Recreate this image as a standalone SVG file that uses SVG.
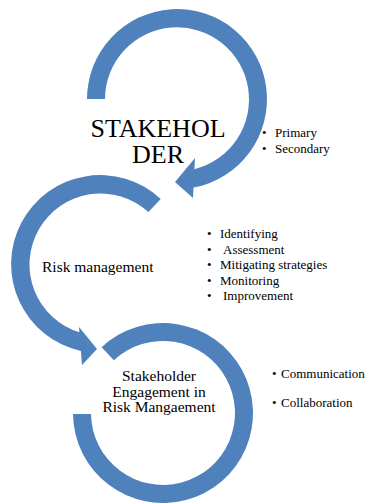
<svg xmlns="http://www.w3.org/2000/svg" width="366" height="503" viewBox="0 0 366 503">
  <style>
    .ring { fill: #4F81BD; stroke: none; }
    text { font-family: 'Liberation Serif', 'Times New Roman', serif; fill: #000; }
    .title { font-size: 26px; text-anchor: middle; }
    .head { font-size: 15.5px; }
    .item { font-size: 13px; }
  </style>
  <rect width="366" height="503" fill="#fff"/>

  <!-- Stakeholder: clockwise ring arrow -->
  <g id="stakeholder" font-family="Liberation Serif, serif">
    <path class="ring" d="M 87 99 A 90 90 0 1 1 193.5 187.6 L 193 198 L 175 182 L 195 158 L 194.4 169.2 A 72 72 0 1 0 105 99 Z"/>
    <text class="title" x="158" y="137">STAKEHOL</text>
    <text class="title" x="158" y="163">DER</text>
  </g>

  <!-- Risk management: counter-clockwise ring arrow -->
  <g id="risk-management" font-family="Liberation Serif, serif">
    <path class="ring" d="M 160.7 198.9 A 89 89 0 1 0 80.9 351 L 82 365 L 97 349 L 79 327 L 79.4 332.3 A 71 71 0 1 1 148.4 212.1 Z"/>
    <text class="head" x="42" y="272">Risk management</text>
  </g>

  <!-- Engagement: open ring -->
  <g id="engagement" font-family="Liberation Serif, serif">
    <path class="ring" d="M 101.6 347.2 A 90 90 0 1 1 73 414 L 91 414 A 72 72 0 1 0 113.9 360.3 Z"/>
    <text class="head" text-anchor="middle" x="159" y="381">Stakeholder</text>
    <text class="head" text-anchor="middle" x="159" y="396.5">Engagement in</text>
    <text class="head" text-anchor="middle" x="159" y="412">Risk Mangaement</text>
  </g>

  <!-- Bullet lists -->
  <g id="stakeholder-types" class="item" font-family="Liberation Serif, serif">
    <text x="262" y="137">•</text><text x="275" y="137">Primary</text>
    <text x="262" y="153">•</text><text x="275" y="153">Secondary</text>
  </g>

  <g id="risk-steps" class="item" font-family="Liberation Serif, serif">
    <text x="207" y="238">•</text><text x="220" y="238">Identifying</text>
    <text x="207" y="254">•</text><text x="223" y="254">Assessment</text>
    <text x="207" y="269">•</text><text x="220" y="269">Mitigating strategies</text>
    <text x="207" y="285">•</text><text x="220" y="285">Monitoring</text>
    <text x="207" y="300">•</text><text x="223" y="300">Improvement</text>
  </g>

  <g id="engagement-means" class="item" font-family="Liberation Serif, serif">
    <text x="272" y="378">•</text><text x="281" y="378">Communication</text>
    <text x="272" y="407">•</text><text x="281" y="407">Collaboration</text>
  </g>

  <g id="connectors"/>
</svg>
